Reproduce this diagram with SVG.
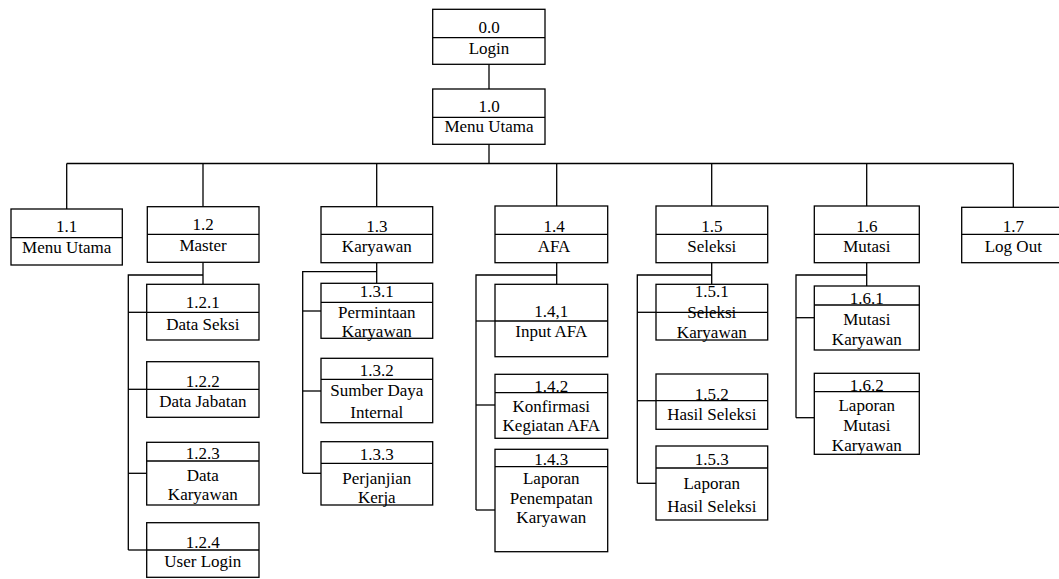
<svg xmlns="http://www.w3.org/2000/svg" width="1059" height="579" viewBox="0 0 1059 579" font-family="Liberation Serif, Tinos, Times New Roman, DejaVu Serif, serif">
  <style>
    .box { fill: #ffffff; stroke: #000000; stroke-width: 1.3; }
    .div { stroke: #000000; stroke-width: 1.3; }
    .wire { fill: none; stroke: #000000; stroke-width: 1.3; }
    text { font-size: 17px; text-anchor: middle; fill: #000000; }
  </style>
  <rect x="0" y="0" width="1059" height="579" fill="#ffffff"/>

  <!-- connectors -->
  <g id="connectors" class="wire">
    <!-- top chain -->
    <path d="M489 64.3 V89"/>
    <path d="M489 144.3 V163.5"/>
    <!-- main bus -->
    <path d="M66.7 163.5 H1013.3"/>
    <path d="M66.7 163.5 V209"/>
    <path d="M203 163.5 V206.7"/>
    <path d="M376.7 163.5 V206.7"/>
    <path d="M556.7 163.5 V206"/>
    <path d="M711.7 163.5 V206"/>
    <path d="M866.7 163.5 V206"/>
    <path d="M1013.3 163.5 V207.3"/>
    <!-- Master branch -->
    <path d="M203 262.3 V284.3"/>
    <path d="M203 275 H128.3 V550"/>
    <path d="M128.3 312.3 H146.7"/>
    <path d="M128.3 389.3 H146.7"/>
    <path d="M128.3 473.3 H146.7"/>
    <path d="M128.3 550 H146.7"/>
    <!-- Karyawan branch -->
    <path d="M376.7 262.7 V283.3"/>
    <path d="M376.7 271.7 H302.7 V473.3"/>
    <path d="M302.7 311 H321"/>
    <path d="M302.7 391 H321"/>
    <path d="M302.7 473.3 H321"/>
    <!-- AFA branch -->
    <path d="M556.7 262.7 V284.3"/>
    <path d="M556.7 275 H476 V510"/>
    <path d="M476 321 H495"/>
    <path d="M476 405 H495"/>
    <path d="M476 510 H495"/>
    <!-- Seleksi branch -->
    <path d="M711.7 262.7 V284.3"/>
    <path d="M711.7 275 H637.3 V483.3"/>
    <path d="M637.3 312.3 H656"/>
    <path d="M637.3 400.7 H656"/>
    <path d="M637.3 483.3 H656"/>
    <!-- Mutasi branch -->
    <path d="M866.7 262.7 V286"/>
    <path d="M866.7 275 H796 V417.7"/>
    <path d="M796 317.7 H814.3"/>
    <path d="M796 417.7 H814.3"/>
  </g>

  <!-- level 0 -->
  <g id="n0_0">
    <rect class="box" x="432.7" y="9.3" width="112.3" height="55"/>
    <line class="div" x1="432.7" y1="37.7" x2="545" y2="37.7"/>
    <text x="489" y="33">0.0</text>
    <text x="489" y="53.5">Login</text>
  </g>
  <g id="n1_0">
    <rect class="box" x="432.7" y="89" width="112.3" height="55.3"/>
    <line class="div" x1="432.7" y1="117.3" x2="545" y2="117.3"/>
    <text x="489" y="111.7">1.0</text>
    <text x="489" y="131.7">Menu Utama</text>
  </g>

  <!-- level 1 -->
  <g id="n1_1">
    <rect class="box" x="11" y="209" width="111.3" height="56"/>
    <line class="div" x1="11" y1="237.7" x2="122.3" y2="237.7"/>
    <text x="66.7" y="231.7">1.1</text>
    <text x="66.7" y="253.3">Menu Utama</text>
  </g>
  <g id="n1_2">
    <rect class="box" x="147.3" y="206.7" width="111.7" height="55.6"/>
    <line class="div" x1="147.3" y1="234.3" x2="259" y2="234.3"/>
    <text x="203" y="230">1.2</text>
    <text x="203" y="251">Master</text>
  </g>
  <g id="n1_3">
    <rect class="box" x="321" y="206.7" width="111.7" height="56"/>
    <line class="div" x1="321" y1="234.3" x2="432.7" y2="234.3"/>
    <text x="376.8" y="231.7">1.3</text>
    <text x="376.8" y="251.7">Karyawan</text>
  </g>
  <g id="n1_4">
    <rect class="box" x="495" y="206" width="112.7" height="56.7"/>
    <line class="div" x1="495" y1="234.3" x2="607.7" y2="234.3"/>
    <text x="554" y="231.7">1.4</text>
    <text x="554" y="251.7">AFA</text>
  </g>
  <g id="n1_5">
    <rect class="box" x="656" y="206" width="111.7" height="56.7"/>
    <line class="div" x1="656" y1="234.3" x2="767.7" y2="234.3"/>
    <text x="711.8" y="231.7">1.5</text>
    <text x="711.8" y="251.7">Seleksi</text>
  </g>
  <g id="n1_6">
    <rect class="box" x="814.3" y="206" width="105" height="56.7"/>
    <line class="div" x1="814.3" y1="234.3" x2="919.3" y2="234.3"/>
    <text x="866.8" y="231.7">1.6</text>
    <text x="866.8" y="251.7">Mutasi</text>
  </g>
  <g id="n1_7">
    <rect class="box" x="961.7" y="207.3" width="103.3" height="55.4"/>
    <line class="div" x1="961.7" y1="234.3" x2="1065" y2="234.3"/>
    <text x="1013.3" y="231.7">1.7</text>
    <text x="1013.3" y="251.7">Log Out</text>
  </g>

  <!-- Master children -->
  <g id="n1_2_1">
    <rect class="box" x="146.7" y="284.3" width="112.3" height="55.7"/>
    <line class="div" x1="146.7" y1="312.3" x2="259" y2="312.3"/>
    <text x="202.8" y="308.3">1.2.1</text>
    <text x="202.8" y="330">Data Seksi</text>
  </g>
  <g id="n1_2_2">
    <rect class="box" x="146.7" y="361.7" width="112.3" height="55.6"/>
    <line class="div" x1="146.7" y1="389.3" x2="259" y2="389.3"/>
    <text x="202.8" y="386.7">1.2.2</text>
    <text x="202.8" y="407.3">Data Jabatan</text>
  </g>
  <g id="n1_2_3">
    <rect class="box" x="146.7" y="442.3" width="112.3" height="62.7"/>
    <line class="div" x1="146.7" y1="461" x2="259" y2="461"/>
    <text x="202.8" y="459.3">1.2.3</text>
    <text x="202.8" y="480.7">Data</text>
    <text x="202.8" y="500">Karyawan</text>
  </g>
  <g id="n1_2_4">
    <rect class="box" x="146.7" y="522.7" width="112.3" height="54.6"/>
    <line class="div" x1="146.7" y1="550" x2="259" y2="550"/>
    <text x="202.8" y="548.3">1.2.4</text>
    <text x="202.8" y="567">User Login</text>
  </g>

  <!-- Karyawan children -->
  <g id="n1_3_1">
    <rect class="box" x="321" y="283.3" width="111.7" height="55"/>
    <line class="div" x1="321" y1="302.3" x2="432.7" y2="302.3"/>
    <text x="376.8" y="296.5">1.3.1</text>
    <text x="376.8" y="317.7">Permintaan</text>
    <text x="376.8" y="336.5">Karyawan</text>
  </g>
  <g id="n1_3_2">
    <rect class="box" x="321" y="358.3" width="111.7" height="64.4"/>
    <line class="div" x1="321" y1="379.3" x2="432.7" y2="379.3"/>
    <text x="376.8" y="376">1.3.2</text>
    <text x="376.8" y="396">Sumber Daya</text>
    <text x="376.8" y="418">Internal</text>
  </g>
  <g id="n1_3_3">
    <rect class="box" x="321" y="441.7" width="111.7" height="63.3"/>
    <line class="div" x1="321" y1="463.3" x2="432.7" y2="463.3"/>
    <text x="376.8" y="460">1.3.3</text>
    <text x="376.8" y="484">Perjanjian</text>
    <text x="376.8" y="502.5">Kerja</text>
  </g>

  <!-- AFA children -->
  <g id="n1_4_1">
    <rect class="box" x="495" y="284.3" width="112.7" height="72.4"/>
    <line class="div" x1="495" y1="321" x2="607.7" y2="321"/>
    <text x="551.3" y="317.3">1.4,1</text>
    <text x="551.3" y="336.5">Input AFA</text>
  </g>
  <g id="n1_4_2">
    <rect class="box" x="495" y="374.3" width="112.7" height="64"/>
    <line class="div" x1="495" y1="392.7" x2="607.7" y2="392.7"/>
    <text x="551.3" y="391.5">1.4.2</text>
    <text x="551.3" y="412">Konfirmasi</text>
    <text x="551.3" y="431">Kegiatan AFA</text>
  </g>
  <g id="n1_4_3">
    <rect class="box" x="495" y="449.3" width="112.7" height="102.4"/>
    <line class="div" x1="495" y1="466.7" x2="607.7" y2="466.7"/>
    <text x="551.3" y="465">1.4.3</text>
    <text x="551.3" y="484">Laporan</text>
    <text x="551.3" y="503.5">Penempatan</text>
    <text x="551.3" y="523">Karyawan</text>
  </g>

  <!-- Seleksi children -->
  <g id="n1_5_1">
    <rect class="box" x="656" y="284.3" width="111.7" height="55.7"/>
    <text x="711.8" y="297.3">1.5.1</text>
    <text x="711.8" y="317.7">Seleksi</text>
    <text x="711.8" y="338">Karyawan</text>
    <line class="div" x1="656" y1="312.3" x2="767.7" y2="312.3"/>
  </g>
  <g id="n1_5_2">
    <rect class="box" x="656" y="374" width="111.7" height="55.3"/>
    <line class="div" x1="656" y1="400.7" x2="767.7" y2="400.7"/>
    <text x="711.8" y="400">1.5.2</text>
    <text x="711.8" y="420">Hasil Seleksi</text>
  </g>
  <g id="n1_5_3">
    <rect class="box" x="656" y="446" width="111.7" height="74"/>
    <line class="div" x1="656" y1="468" x2="767.7" y2="468"/>
    <text x="711.8" y="465">1.5.3</text>
    <text x="711.8" y="488.5">Laporan</text>
    <text x="711.8" y="511.5">Hasil Seleksi</text>
  </g>

  <!-- Mutasi children -->
  <g id="n1_6_1">
    <rect class="box" x="814.3" y="286" width="105" height="64"/>
    <line class="div" x1="814.3" y1="305" x2="919.3" y2="305"/>
    <text x="866.8" y="303.5">1.6.1</text>
    <text x="866.8" y="324.5">Mutasi</text>
    <text x="866.8" y="344.5">Karyawan</text>
  </g>
  <g id="n1_6_2">
    <rect class="box" x="814.3" y="373.3" width="105" height="81"/>
    <line class="div" x1="814.3" y1="391.7" x2="919.3" y2="391.7"/>
    <text x="866.8" y="390.5">1.6.2</text>
    <text x="866.8" y="411">Laporan</text>
    <text x="866.8" y="431">Mutasi</text>
    <text x="866.8" y="451">Karyawan</text>
  </g>
</svg>
